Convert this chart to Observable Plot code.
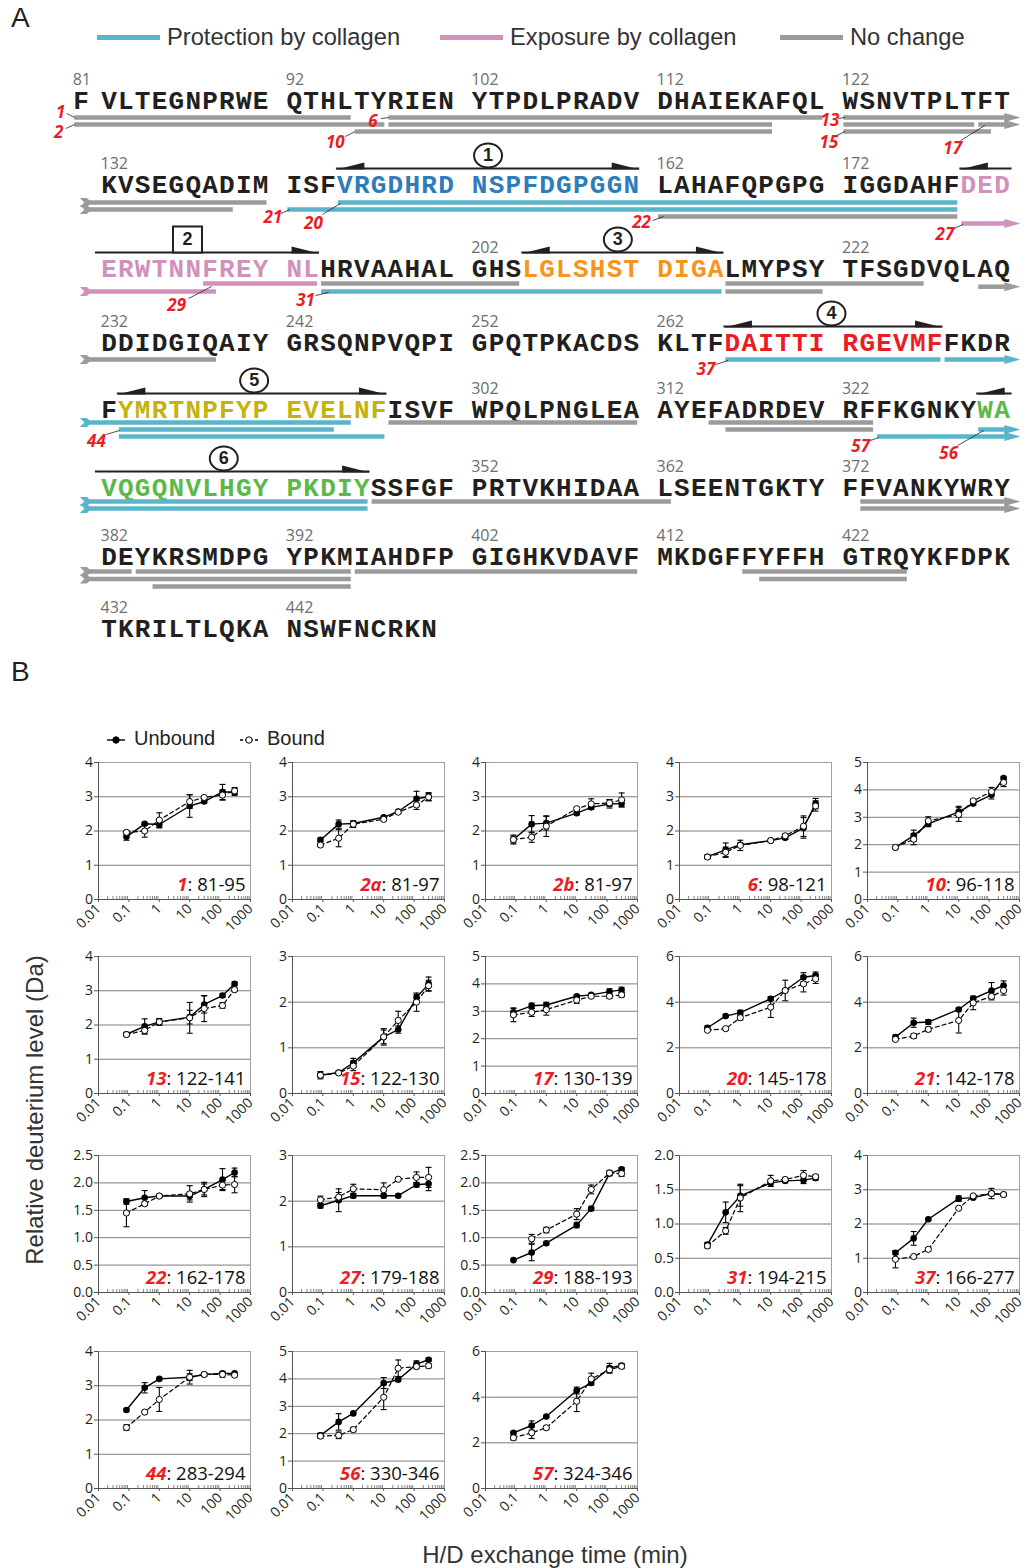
<!DOCTYPE html>
<html><head><meta charset="utf-8">
<script src="https://cdn.jsdelivr.net/npm/d3@7"></script>
<script src="https://cdn.jsdelivr.net/npm/@observablehq/plot@0.6"></script>
<style>
body{margin:0;background:#fff;}
#page{position:relative;width:1026px;height:1568px;overflow:hidden;font-family:"Liberation Sans",Arial,sans-serif;color:#231f20;}
.abs{position:absolute;white-space:nowrap;}
.leg-line{position:absolute;height:5px;}
</style></head><body><div id="page"></div>
<script>
// ================= DATA: panel A =================
const firstResidue = 81;
const sequenceBlocks = [
  "F","VLTEGNPRWE","QTHLTYRIEN","YTPDLPRADV","DHAIEKAFQL","WSNVTPLTFT",
  "KVSEGQADIM","ISFVRGDHRD","NSPFDGPGGN","LAHAFQPGPG","IGGDAHFDED",
  "ERWTNNFREY","NLHRVAAHAL","GHSLGLSHST","DIGALMYPSY","TFSGDVQLAQ",
  "DDIDGIQAIY","GRSQNPVQPI","GPQTPKACDS","KLTFDAITTI","RGEVMFFKDR",
  "FYMRTNPFYP","EVELNFISVF","WPQLPNGLEA","AYEFADRDEV","RFFKGNKYWA",
  "VQGQNVLHGY","PKDIYSSFGF","PRTVKHIDAA","LSEENTGKTY","FFVANKYWRY",
  "DEYKRSMDPG","YPKMIAHDFP","GIGHKVDAVF","MKDGFFYFFH","GTRQYKFDPK",
  "TKRILTLQKA","NSWFNCRKN"
];
const positionLabels = [81,92,102,112,122,132,162,172,202,222,232,242,252,262,302,312,322,352,362,372,382,392,402,412,422,432,442];
const legendLabelsA = ["Protection by collagen","Exposure by collagen","No change"];
// [label, first residue, last residue, class, lane on each row]
const peptides = [
  ["1",81,95,"none",[0]],
  ["2",81,97,"none",[1]],
  ["6",98,121,"none",[0]],
  ["",98,118,"none",[1]],
  ["10",96,118,"none",[2]],
  ["13",122,141,"none",[0,0]],
  ["",122,129,"none",[1]],
  ["17",130,139,"none",[1,1]],
  ["15",122,130,"none",[2]],
  ["21",142,178,"prot",[1]],
  ["20",145,178,"prot",[0]],
  ["22",162,178,"none",[2]],
  ["27",179,188,"exp",[3,1]],
  ["29",188,193,"exp",[0]],
  ["",194,204,"none",[0]],
  ["31",194,215,"prot",[1]],
  ["",216,226,"none",[0]],
  ["",216,221,"none",[1]],
  ["",230,238,"none",[0.4,0]],
  ["37",266,277,"prot",[0]],
  ["",278,295,"prot",[0,0]],
  ["44",283,294,"prot",[1]],
  ["",283,297,"prot",[2]],
  ["",298,311,"none",[0]],
  ["",315,323,"none",[0]],
  ["",316,323,"none",[1]],
  ["57",324,346,"prot",[2,0]],
  ["56",330,346,"prot",[1,1]],
  ["",347,362,"none",[0]],
  ["",373,383,"none",[0,0]],
  ["",373,395,"none",[1,1]],
  ["",384,395,"none",[0]],
  ["",385,395,"none",[2]],
  ["",396,411,"none",[0]],
  ["",417,425,"none",[0]],
  ["",418,425,"none",[1]]
];
// [number, first residue, last residue, badge shape]
const motifs = [
  ["1",145,161,"circle"],
  ["2",179,193,"square"],
  ["3",205,215,"circle"],
  ["4",266,277,"circle"],
  ["5",283,297,"circle"],
  ["6",330,346,"circle"]
];

// ================= DATA: panel B =================
const times = [0.083, 0.33, 1, 10, 30, 120, 300];
const timeTicks = [0.01, 0.1, 1, 10, 100, 1000];
const panelIds = ["1","2a","2b","6","10","13","15","17","20","21","22","27","29","31","37","44","56","57"];
const panelRanges = ["81-95","81-97","81-97","98-121","96-118","122-141","122-130","130-139","145-178","142-178","162-178","179-188","188-193","194-215","166-277","283-294","330-346","324-346"];
const panelYMax = [4,4,4,4,5,4,3,5,6,6,2.5,3,2.5,2.0,4,4,5,6];
const unboundMean = [
  [1.83,2.21,2.19,2.73,2.86,3.14,3.14],
  [1.74,2.2,2.22,2.4,2.57,2.94,3.0],
  [1.75,2.2,2.23,2.52,2.69,2.79,2.8],
  [1.25,1.45,1.6,1.72,1.8,2.09,2.8],
  [1.9,2.33,2.76,3.2,3.5,3.82,4.43],
  [1.73,1.96,2.09,2.23,2.6,2.86,3.2],
  [0.4,0.46,0.67,1.24,1.4,2.1,2.4],
  [2.96,3.2,3.23,3.55,3.6,3.72,3.78],
  [2.88,3.39,3.54,4.15,4.51,5.09,5.17],
  [2.47,3.1,3.13,3.68,4.15,4.51,4.73],
  [1.66,1.73,1.76,1.76,1.88,2.06,2.19],
  [1.9,2.02,2.12,2.12,2.12,2.36,2.38],
  [0.59,0.73,0.9,1.23,1.53,2.17,2.25],
  [0.7,1.17,1.41,1.6,1.63,1.64,1.67],
  [1.16,1.58,2.14,2.74,2.77,2.89,2.86],
  [2.29,2.94,3.2,3.25,3.33,3.36,3.36],
  [1.94,2.43,2.74,3.85,3.97,4.54,4.7],
  [2.44,2.76,3.15,4.29,4.62,5.28,5.39]
];
const unboundErr = [
  [0.1,0.03,0.1,0.33,0.05,0.22,0.1],
  [0.05,0.12,0.06,0.03,0.03,0.22,0.12],
  [0.1,0.25,0.2,0.05,0.05,0.12,0.1],
  [0.05,0.2,0.05,0.03,0.05,0.3,0.15],
  [0.03,0.2,0.1,0.2,0.05,0.15,0.05],
  [0.04,0.22,0.1,0.2,0.25,0.05,0.05],
  [0.05,0.03,0.1,0.15,0.08,0.07,0.15],
  [0.15,0.1,0.1,0.05,0.03,0.1,0.1],
  [0.07,0.05,0.1,0.08,0.05,0.2,0.15],
  [0.08,0.2,0.1,0.05,0.05,0.35,0.2],
  [0.05,0.13,0.03,0.07,0.13,0.2,0.08],
  [0.05,0.25,0.05,0.05,0.03,0.05,0.15],
  [0.0,0.15,0.03,0.05,0.03,0.03,0.03],
  [0.03,0.15,0.15,0.05,0.03,0.05,0.03],
  [0.05,0.2,0.03,0.08,0.03,0.05,0.03],
  [0.03,0.15,0.03,0.1,0.05,0.05,0.03],
  [0.08,0.3,0.03,0.2,0.05,0.12,0.05],
  [0.05,0.2,0.05,0.15,0.08,0.2,0.08]
];
const boundMean = [
  [1.96,2.0,2.32,2.86,2.98,3.05,3.17],
  [1.59,1.79,2.2,2.34,2.55,2.76,2.99],
  [1.75,1.82,2.14,2.65,2.79,2.82,2.91],
  [1.24,1.38,1.58,1.72,1.86,2.14,2.73],
  [1.9,2.2,2.87,3.1,3.6,3.94,4.27],
  [1.72,1.84,2.09,2.21,2.48,2.57,3.03],
  [0.4,0.45,0.6,1.24,1.6,2.0,2.36],
  [2.87,2.96,3.06,3.41,3.55,3.55,3.6],
  [2.77,2.84,3.32,3.78,4.51,4.8,5.02],
  [2.37,2.52,2.81,3.2,3.97,4.25,4.51],
  [1.45,1.62,1.76,1.8,1.88,1.96,1.97],
  [2.03,2.09,2.27,2.25,2.48,2.52,2.52],
  [null,0.98,1.14,1.43,1.88,2.18,2.17],
  [0.68,0.9,1.38,1.63,1.65,1.71,1.69],
  [0.97,1.05,1.26,2.46,2.82,2.89,2.86],
  [1.78,2.23,2.6,3.25,3.33,3.33,3.31],
  [1.91,1.94,2.15,3.33,4.39,4.45,4.48],
  [2.22,2.44,2.66,3.82,4.8,5.2,5.35]
];
const boundErr = [
  [0.05,0.18,0.21,0.2,0.03,0.15,0.1],
  [0.05,0.25,0.1,0.04,0.03,0.13,0.1],
  [0.13,0.15,0.3,0.04,0.15,0.1,0.2],
  [0.05,0.15,0.15,0.03,0.05,0.3,0.15],
  [0.03,0.2,0.15,0.25,0.05,0.15,0.15],
  [0.05,0.1,0.08,0.45,0.38,0.08,0.05],
  [0.08,0.03,0.1,0.18,0.2,0.2,0.12],
  [0.25,0.15,0.2,0.12,0.05,0.08,0.08],
  [0.05,0.05,0.1,0.45,0.45,0.35,0.2],
  [0.05,0.1,0.1,0.55,0.3,0.15,0.2],
  [0.25,0.03,0.03,0.15,0.1,0.08,0.15],
  [0.08,0.1,0.1,0.15,0.03,0.12,0.22],
  [null,0.08,0.05,0.1,0.08,0.05,0.05],
  [0.03,0.05,0.2,0.08,0.03,0.07,0.03],
  [0.25,0.03,0.05,0.03,0.03,0.15,0.03],
  [0.08,0.03,0.35,0.2,0.05,0.08,0.05],
  [0.08,0.12,0.08,0.45,0.3,0.08,0.08],
  [0.1,0.25,0.08,0.45,0.25,0.15,0.1]
];

// ================= STYLE / LAYOUT =================
const classColor = {prot:"#5ab5ca", exp:"#d191bd", none:"#9b9b9b"};
const motifColor = ["#2e7cba","#d191bd","#f7941e","#ec1c24","#c3b30a","#5cb947"];
const residueInk = "#231f20";
const labelRed = "#ed1c24";
const pitch = 16.85, seqLeft = 100, widthA = 1026, heightA = 660;
const rowTextY = [100,184,268,342,409,487,556,628];
const laneBaseY = [117,202,283,359,422,501,571];
const laneStep = [7,7,8,7,7,7,7.5];
const LEFT_CONT = -0.75, RIGHT_CONT = 53.7, GAP = 0.12;
const MOTIF_LEFT_CONT = -0.3, MOTIF_RIGHT_CONT = 54.1;
const badgeShift = {"1":0,"2":-20,"3":-5,"4":-2,"5":2,"6":-9};
// label text offset (px) and leader endpoints relative to the bar start
const labelLayout = {
  "1":[-14,-5,-8,-4,0,0],"2":[-16,8,-9,4,0,0],"6":[-16,4,-8,1,0,0],"10":[-20,11,-10,5,0,0],
  "13":[-14,3,-6,1,1,0],"15":[-15,11,-7,4,1,0],"17":[-26,24,-18,16,6,1],
  "21":[-15,8,-7,4,2,0],"20":[-25,21,-16,12,2,1],"22":[-17,6,-6,4,5,0],"27":[-17,11,-8,5,1,1],
  "29":[-27,22,-15,15,8,3],"31":[-16,9,-6,4,7,1],"37":[-20,10,-10,5,2,1],"44":[-23,12,-13,5,0,1],
  "57":[-17,10,-7,4,1,1],"56":[-30,24,-21,16,5,1]
};

// ================= helpers =================
const seqString = sequenceBlocks.join("");
function rowOf(r){ return Math.max(0, Math.floor((r - 82) / 50)); }
function colOf(r){ if (r < 82) return -1.65; const o = (r - 82) % 50; return o + Math.floor(o / 10); }
function motifIndexOf(r){ return motifs.findIndex(m => r >= m[1] && r <= m[2]); }

const page = document.getElementById("page");
function addDiv(html, css){ const d = document.createElement("div"); d.className = "abs"; d.innerHTML = html; Object.assign(d.style, css); page.appendChild(d); return d; }

// ================= PANEL A =================
const residues = Array.from(seqString, (ch, i) => ({res: firstResidue + i, ch}));
const segs = [];
peptides.forEach(([label, s, e, cls, lanes]) => {
  const r0 = rowOf(s), r1 = rowOf(e);
  for (let r = r0; r <= r1; r++) {
    const contL = r > r0, contR = r < r1;
    segs.push({
      label: r === r0 ? label : "", cls,
      x1: contL ? LEFT_CONT : colOf(s) + GAP,
      x2: contR ? RIGHT_CONT : colOf(e) + 1 - GAP,
      y: laneBaseY[r] + lanes[r - r0] * laneStep[r], contL, contR
    });
  }
});
const labels = segs.filter(d => d.label).map(d => {
  const L = labelLayout[d.label];
  return {text: d.label, x: d.x1 + L[0] / pitch, y: d.y + L[1],
    lx1: d.x1 + L[2] / pitch, ly1: d.y + L[3], lx2: d.x1 + L[4] / pitch, ly2: d.y + L[5]};
});
const motifSegs = [];
motifs.forEach(([id, s, e, shape], k) => {
  const r0 = rowOf(s), r1 = rowOf(e);
  for (let r = r0; r <= r1; r++) {
    motifSegs.push({id, k, shape, x1: r > r0 ? MOTIF_LEFT_CONT : colOf(s), x2: r < r1 ? MOTIF_RIGHT_CONT : colOf(e) + 1,
      y: rowTextY[r] - 16, start: r === r0, end: r === r1});
  }
});
const badges = motifs.map(([id]) => {
  const ss = motifSegs.filter(d => d.id === id).sort((a, b) => (b.x2 - b.x1) - (a.x2 - a.x1))[0];
  return {id, shape: ss.shape, x: (ss.x1 + ss.x2) / 2 + badgeShift[id] / pitch, y: ss.y - 13};
});

const arrowHead = {draw(c){ c.moveTo(-1,-4.5); c.lineTo(15,0); c.lineTo(-1,4.5); c.closePath(); }};
const notchTail = {draw(c){ c.moveTo(-8,-4.5); c.lineTo(-1,-4.5); c.lineTo(4,0); c.lineTo(-1,4.5); c.lineTo(-8,4.5); c.lineTo(-3.5,0); c.closePath(); }};
const harpoonL = {draw(c){ c.moveTo(0,1); c.lineTo(28,-6); c.lineTo(28,1); c.closePath(); }};
const harpoonR = {draw(c){ c.moveTo(0,1); c.lineTo(-28,-6); c.lineTo(-28,1); c.closePath(); }};
const ellipseBadge = {draw(c){ const rx=14, ry=12, k=0.5523;
  c.moveTo(rx,0); c.bezierCurveTo(rx,ry*k,rx*k,ry,0,ry); c.bezierCurveTo(-rx*k,ry,-rx,ry*k,-rx,0);
  c.bezierCurveTo(-rx,-ry*k,-rx*k,-ry,0,-ry); c.bezierCurveTo(rx*k,-ry,rx,-ry*k,rx,0); c.closePath(); }};
const squareBadge = {draw(c){ c.rect(-14.5,-13,29,26); }};

const plotA = Plot.plot({
  width: widthA, height: heightA, margin: 0,
  style: {background: "transparent", overflow: "visible"},
  x: {domain: [-seqLeft / pitch, (widthA - seqLeft) / pitch], axis: null},
  y: {domain: [0, heightA], reverse: true, axis: null},
  color: {type: "identity"},
  marks: [
    Plot.text(positionLabels, {x: r => colOf(r), y: r => rowTextY[rowOf(r)] - 21, text: r => String(r),
      textAnchor: "start", fill: "#6d6e71", fontSize: 16, fontFamily: "Open Sans"}),
    Plot.text(residues, {x: d => colOf(d.res) + 0.5, y: d => rowTextY[rowOf(d.res)], text: "ch",
      fill: d => { const m = motifIndexOf(d.res); return m < 0 ? residueInk : motifColor[m]; },
      fontSize: 26, fontWeight: "bold", fontFamily: "'Liberation Mono','Courier New',monospace"}),
    Plot.ruleY(segs, {x1: "x1", x2: "x2", y: "y", stroke: d => classColor[d.cls], strokeWidth: 4.5}),
    Plot.dot(segs.filter(d => d.contR), {x: d => d.x2, y: "y", symbol: arrowHead, fill: d => classColor[d.cls], stroke: "none", r: 5}),
    Plot.dot(segs.filter(d => d.contL), {x: d => d.x1, y: "y", symbol: notchTail, fill: d => classColor[d.cls], stroke: "none", r: 5}),
    Plot.ruleY(motifSegs, {x1: "x1", x2: "x2", y: "y", stroke: "#231f20", strokeWidth: 2}),
    Plot.dot(motifSegs.filter(d => d.start), {x: "x1", y: "y", symbol: harpoonL, fill: "#231f20", stroke: "none", r: 5}),
    Plot.dot(motifSegs.filter(d => d.end), {x: "x2", y: "y", symbol: harpoonR, fill: "#231f20", stroke: "none", r: 5}),
    Plot.dot(badges, {x: "x", y: "y", symbol: d => d.shape === "square" ? squareBadge : ellipseBadge, fill: "#fff", stroke: "#231f20", strokeWidth: 2, r: 12}),
    Plot.text(badges, {x: "x", y: "y", text: "id", fill: "#231f20", fontSize: 18, fontWeight: "bold", fontFamily: "Liberation Sans"}),
    Plot.link(labels, {x1: "lx1", y1: "ly1", x2: "lx2", y2: "ly2", stroke: "#231f20", strokeWidth: 0.8}),
    Plot.text(labels, {x: "x", y: "y", text: "text", fill: labelRed, fontSize: 17, fontWeight: "bold", fontStyle: "italic", fontFamily: "Open Sans"})
  ]
});
plotA.style.position = "absolute"; plotA.style.left = "0px"; plotA.style.top = "0px";
page.appendChild(plotA);

// header texts A
addDiv("A", {left: "11px", top: "2px", fontSize: "28px"});
const legendAX = [97, 440, 780];
const legendAColors = [classColor.prot, classColor.exp, classColor.none];
legendLabelsA.forEach((t, i) => {
  const ln = document.createElement("div"); ln.className = "leg-line";
  Object.assign(ln.style, {left: legendAX[i] + "px", top: "35px", width: "63px", background: legendAColors[i]});
  page.appendChild(ln);
  addDiv(t, {left: (legendAX[i] + 70) + "px", top: "23px", fontSize: "23.7px", color: "#333", lineHeight: "28px"});
});

// ================= PANEL B =================
addDiv("B", {left: "11px", top: "656px", fontSize: "28px"});
const legB = (dash, open) => `<svg width="20" height="12" style="vertical-align:middle;margin-right:8px"><line x1="1" y1="6" x2="19" y2="6" stroke="#000" stroke-width="1.4" ${dash ? 'stroke-dasharray="3,2"' : ''}/><circle cx="10" cy="6" r="3.2" fill="${open ? '#fff' : '#000'}" stroke="#000" stroke-width="1"/></svg>`;
addDiv(legB(false, false) + "Unbound", {left: "106px", top: "725px", fontSize: "20px", lineHeight: "26px", color: "#222"});
addDiv(legB(true, true) + "Bound", {left: "239px", top: "725px", fontSize: "20px", lineHeight: "26px", color: "#222"});

const colLeft = [98, 292, 485, 679, 867];
const rowTop = [762, 956, 1155, 1351];
const PW = 152, PH = 137, ML = 42, MR = 10, MT = 10, MB = 52;
const minorTicks = [];
[0.01, 0.1, 1, 10, 100].forEach(d => { for (let k = 2; k <= 9; k++) minorTicks.push(d * k); });
const capSym = {draw(c){ c.moveTo(-3,0); c.lineTo(3,0); }};

panelIds.forEach((id, i) => {
  const ymax = panelYMax[i];
  const step = ymax <= 2.5 ? 0.5 : ymax === 6 ? 2 : 1;
  const yticks = d3.range(0, ymax + 1e-9, step);
  const fmt = step === 0.5 ? d3.format(".1f") : d3.format("d");
  const U = times.map((t, j) => ({t, v: unboundMean[i][j], e: unboundErr[i][j]})).filter(d => d.v != null);
  const B = times.map((t, j) => ({t, v: boundMean[i][j], e: boundErr[i][j]})).filter(d => d.v != null);
  const all = U.concat(B).filter(d => d.e > 0);
  const caps = all.flatMap(d => [{t: d.t, y: d.v - d.e}, {t: d.t, y: d.v + d.e}]);
  const full = id + ": " + panelRanges[i];
  const svg = Plot.plot({
    width: PW + ML + MR, height: PH + MT + MB,
    marginLeft: ML, marginRight: MR, marginTop: MT, marginBottom: MB,
    style: {background: "transparent", overflow: "visible", fontFamily: "Open Sans", fontSize: "13px"},
    x: {type: "log", domain: [0.01, 1000], label: null},
    y: {domain: [0, ymax], label: null},
    marks: [
      Plot.gridY(yticks, {stroke: "#7d7d7d", strokeOpacity: 1, strokeWidth: 1}),
      Plot.frame({stroke: "#a0a0a0"}),
      Plot.tickX(minorTicks, {x: d => d, insetTop: PH - 3, stroke: "#666", strokeWidth: 0.8}),
      Plot.axisY(yticks, {tickFormat: fmt, tickSize: 4, tickPadding: 1.5, fontSize: 14, label: null, stroke: "#555"}),
      Plot.axisX(timeTicks, {tickFormat: d => String(d), tickRotate: -45, tickSize: 3, tickPadding: 4, fontSize: 14, label: null, stroke: "#555"}),
      Plot.ruleX([0.01], {stroke: "#555"}),
      Plot.ruleY([0], {stroke: "#555"}),
      Plot.ruleX(all, {x: "t", y1: d => d.v - d.e, y2: d => d.v + d.e, stroke: "#000", strokeWidth: 1.1}),
      Plot.dot(caps, {x: "t", y: "y", symbol: capSym, stroke: "#000", fill: "none", strokeWidth: 1.1, r: 3}),
      Plot.line(B, {x: "t", y: "v", stroke: "#000", strokeWidth: 1.2, strokeDasharray: "4,3"}),
      Plot.line(U, {x: "t", y: "v", stroke: "#000", strokeWidth: 1.4}),
      Plot.dot(U, {x: "t", y: "v", r: 3.3, fill: "#000", stroke: "none"}),
      Plot.dot(B, {x: "t", y: "v", r: 3.1, fill: "#fff", stroke: "#000", strokeWidth: 1}),
      Plot.text([full], {frameAnchor: "bottom-right", text: d => d, dx: -5, dy: -9, lineAnchor: "bottom",
        textAnchor: "end", fontSize: 18.5, fill: "#111", fontFamily: "Open Sans"})
    ]
  });
  d3.select(svg).selectAll("text").filter(function(){ return this.textContent === full; }).each(function(){
    const t = d3.select(this); t.text(null);
    t.append("tspan").attr("fill", labelRed).attr("font-weight", "bold").attr("font-style", "italic").text(id);
    t.append("tspan").text(": " + panelRanges[i]);
  });
  svg.style.position = "absolute";
  svg.style.left = (colLeft[i % 5] - ML) + "px";
  svg.style.top = (rowTop[Math.floor(i / 5)] - MT) + "px";
  page.appendChild(svg);
});

addDiv("Relative deuterium level (Da)", {left: "35px", top: "1110px", fontSize: "24px", color: "#333",
  transform: "translate(-50%,-50%) rotate(-90deg)"});
addDiv("H/D exchange time (min)", {left: "555px", top: "1555px", fontSize: "24px", color: "#333",
  transform: "translate(-50%,-50%)"});
</script></body></html>
